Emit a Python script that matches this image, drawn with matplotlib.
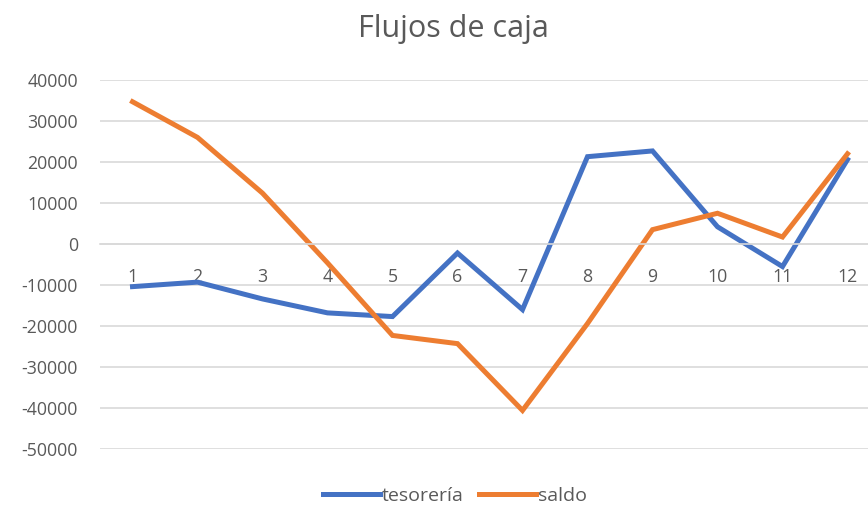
import matplotlib
matplotlib.use("Agg")
import matplotlib.pyplot as plt

# datos
meses = ["1", "2", "3", "4", "5", "6", "7", "8", "9", "10", "11", "12"]
tesoreria = [-10400, -9300, -13400, -16800, -17700, -2200, -16000, 21300, 22700, 4200, -5500, 20600]
saldo = [34700, 26000, 12400, -4600, -22300, -24300, -40600, -19400, 3500, 7500, 1700, 22000]
y_ticks = list(range(-50000, 40001, 10000))

plt.rcParams['font.family'] = ['Open Sans', 'DejaVu Sans']
gris = '#595959'

W, H = 868, 507
fig = plt.figure(figsize=(W / 100, H / 100), dpi=100)
ax = fig.add_axes([100 / W, 1 - 449 / H, 780 / W, 369 / H])

x = range(1, len(meses) + 1)
ax.plot(x, tesoreria, color='#4472C4', lw=3.6, label='tesorería', solid_joinstyle='miter')
ax.plot(x, saldo, color='#ED7D31', lw=3.6, label='saldo', solid_joinstyle='miter')

ax.set_xlim(0.5, len(meses) + 0.5)
ax.set_ylim(-50000, 40000)
ax.set_yticks(y_ticks)
ax.set_yticklabels([str(v) for v in y_ticks])
ax.set_xticks(list(x))
ax.set_xticklabels(meses)

ax.grid(axis='y', color='#D9D9D9', lw=1.2)
ax.set_axisbelow(True)
for s in ['top', 'right', 'left']:
    ax.spines[s].set_visible(False)
ax.spines['bottom'].set_position(('data', 0))
ax.spines['bottom'].set_color('#D9D9D9')
ax.spines['bottom'].set_linewidth(1.2)
ax.tick_params(axis='x', length=0, pad=17, labelsize=12.8, labelcolor=gris)
ax.tick_params(axis='y', length=0, pad=16, labelsize=12.8, labelcolor=gris)

fig.text(453 / W, 1 - 29 / H, 'Flujos de caja', ha='center', va='center', fontsize=22, color=gris)

fig.legend(loc='center', bbox_to_anchor=(455 / W, 1 - 496 / H), ncol=2, frameon=False,
           fontsize=14, labelcolor=gris, handlelength=2.9, handletextpad=0.1, columnspacing=0.8)

fig.savefig('out.png', dpi=100)
